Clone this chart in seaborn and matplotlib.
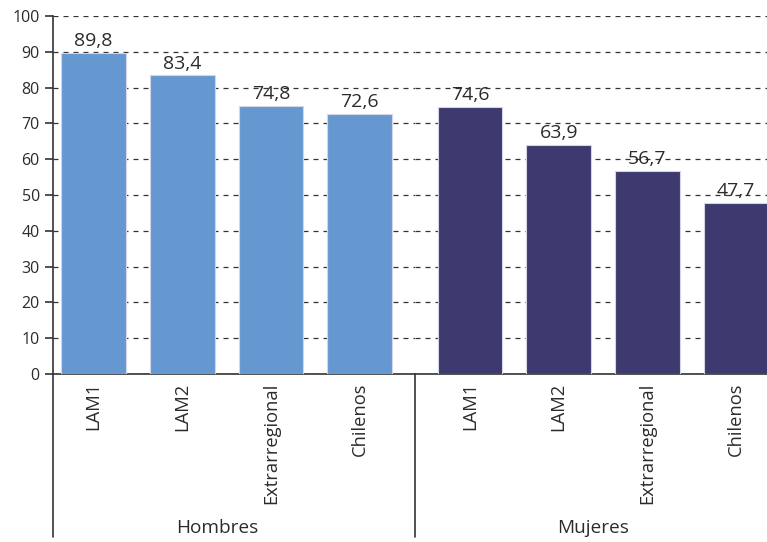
import numpy as np
import pandas as pd
import matplotlib
matplotlib.use('Agg')
import matplotlib.pyplot as plt
import seaborn as sns

# data
categorias = ['LAM1', 'LAM2', 'Extrarregional', 'Chilenos']
hombres = [89.8, 83.4, 74.8, 72.6]
mujeres = [74.6, 63.9, 56.7, 47.7]
grupos = ['Hombres', 'Mujeres']
yticks = list(range(0, 101, 10))

color_h = '#6598d0'
color_m = '#3c3a6e'
txt = '#2b2b2b'

sns.set_style('white')
plt.rcParams['font.family'] = ['Open Sans', 'DejaVu Sans']

fig = plt.figure(figsize=(7.67, 5.42), dpi=100)
ax1 = fig.add_axes([53 / 767, 168 / 542, 361.6 / 767, 358 / 542])
ax2 = fig.add_axes([415 / 767, 168 / 542, 352 / 767, 358 / 542])

df = pd.DataFrame({'cat': categorias * 2,
                   'val': hombres + mujeres,
                   'grupo': [grupos[0]] * 4 + [grupos[1]] * 4})

for ax, g, col, xl in [(ax1, grupos[0], color_h, (-0.456, 3.62)),
                       (ax2, grupos[1], color_m, (-0.62, 3.35))]:
    d = df[df['grupo'] == g]
    sns.barplot(data=d, x='cat', y='val', color=col, width=0.73, ax=ax,
                edgecolor='#d4d6e6', linewidth=0.8, saturation=1, zorder=3)
    labs = [f'{v:.1f}'.replace('.', ',') for v in d['val']]
    ax.bar_label(ax.containers[0], labels=labs, padding=2, fontsize=14, color=txt)
    ax.set_xlim(*xl)
    ax.set_ylim(0, 100)
    ax.set_yticks(yticks)
    ax.grid(axis='y', color='#333333', linestyle=(0, (4, 4)), linewidth=0.9, zorder=0)
    ax.set_xlabel('')
    ax.set_ylabel('')
    ax.tick_params(axis='x', which='major', length=0, pad=6, labelsize=13.2, labelcolor=txt)
    ax.set_xticks([0.5, 1.5, 2.5], minor=True)
    ax.tick_params(axis='x', which='minor', length=6, width=1.2, direction='out', color='#333333')
    plt.setp(ax.get_xticklabels(), rotation=90)
    for s in ['top', 'right']:
        ax.spines[s].set_visible(False)
    ax.spines['bottom'].set_color('#333333')
    ax.spines['bottom'].set_linewidth(1.2)
    ax.text(1.39, -0.43, g, transform=ax.get_xaxis_transform(), ha='center', va='center',
            fontsize=13.7, color=txt)

ax1.spines['left'].set_color('#333333')
ax1.spines['left'].set_linewidth(1.2)
ax1.tick_params(axis='y', length=6, width=1.2, direction='out', color='#333333',
                labelsize=11.5, labelcolor=txt, left=True)
ax1.axvline(-0.456, ymin=-0.455, ymax=0, color='#333333', lw=1.2, clip_on=False)

ax2.spines['left'].set_visible(False)
ax2.tick_params(axis='y', left=False, labelleft=False)
ax2.axvline(-0.62, ymin=-0.455, ymax=0, color='#333333', lw=1.2, clip_on=False)

fig.savefig('out.png', dpi=100)
